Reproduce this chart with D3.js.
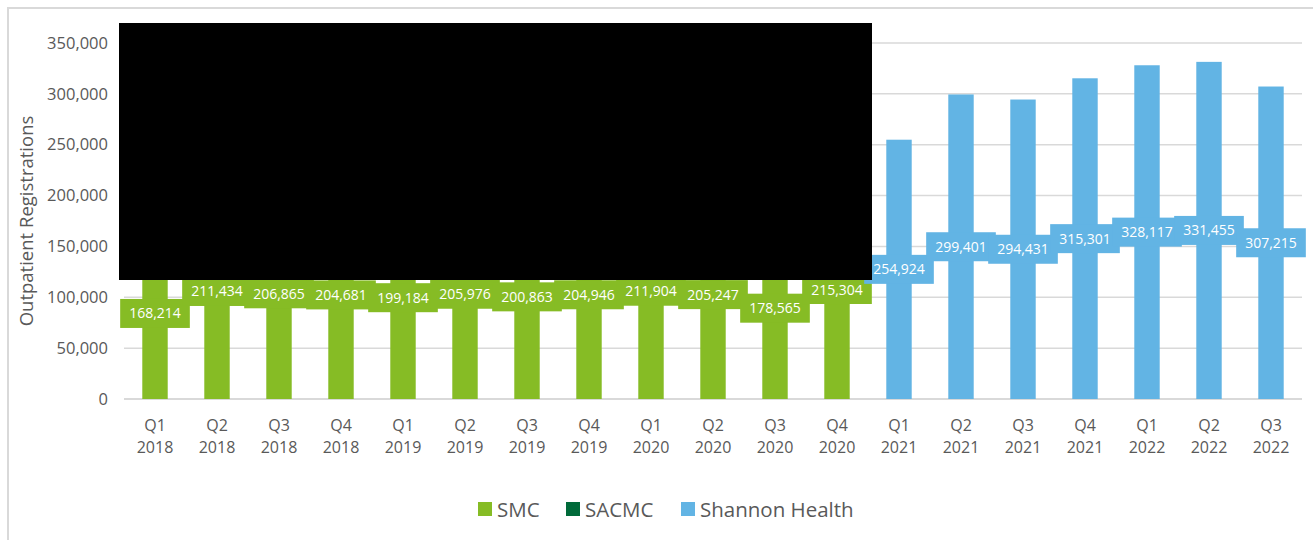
<!DOCTYPE html>
<html>
<head>
<meta charset="utf-8">
<script src="https://cdn.jsdelivr.net/npm/d3@7"></script>
<style>
  body { margin: 0; background: #fff; }
  svg { display: block; font-family: "Open Sans", "Noto Sans", sans-serif; }
</style>
</head>
<body>
<svg id="chart" width="1313" height="540"></svg>
<script>
// quarters and years along the x axis
const quarters = ["Q1","Q2","Q3","Q4","Q1","Q2","Q3","Q4","Q1","Q2","Q3","Q4","Q1","Q2","Q3","Q4","Q1","Q2","Q3"];
const years = ["2018","2018","2018","2018","2019","2019","2019","2019","2020","2020","2020","2020","2021","2021","2021","2021","2022","2022","2022"];

// series values (null = no bar)
const smc = [168214, 211434, 206865, 204681, 199184, 205976, 200863, 204946, 211904, 205247, 178565, 215304,
             null, null, null, null, null, null, null];
const sacmc = [null, null, null, null, null, null, null, null, null, null, null, null,
               null, null, null, null, null, null, null];
const shannon = [null, null, null, null, null, null, null, null, null, null, null, null,
                 254924, 299401, 294431, 315301, 328117, 331455, 307215];

const seriesNames = ["SMC", "SACMC", "Shannon Health"];
const seriesColors = ["#86bc25", "#006a3a", "#62b4e4"];
const yTicks = [0, 50000, 100000, 150000, 200000, 250000, 300000, 350000];

const svg = d3.select("#chart");
const fmt = d3.format(",");

// outer chart border
svg.append("rect")
  .attr("x", 8).attr("y", 8)
  .attr("width", 1320).attr("height", 560)
  .attr("fill", "#fff")
  .attr("stroke", "#d9d9d9")
  .attr("stroke-width", 2);

const cats = quarters.map((q, i) => i);

const x = d3.scaleBand()
  .domain(cats)
  .range([124, 1302])
  .paddingInner(0.59)
  .paddingOuter(0.295);

const y = d3.scaleLinear()
  .domain([0, 350000])
  .range([399, 43]);

// gridlines
svg.append("g")
  .selectAll("line")
  .data(yTicks)
  .enter().append("line")
  .attr("x1", 124).attr("x2", 1302)
  .attr("y1", d => y(d)).attr("y2", d => y(d))
  .attr("stroke", "#d9d9d9")
  .attr("stroke-width", d => d === 0 ? 2 : 1.5);

// y axis labels
const yAxis = svg.append("g")
  .attr("transform", "translate(108,0)")
  .call(d3.axisLeft(y).tickValues(yTicks).tickFormat(fmt).tickSize(0).tickPadding(0));
yAxis.select(".domain").remove();
yAxis.selectAll("text")
  .attr("fill", "#595959")
  .style("font-size", "16.5px")
  .style("font-family", "\"Open Sans\", sans-serif");

// y axis title
svg.append("text")
  .attr("transform", "translate(33,221) rotate(-90)")
  .attr("text-anchor", "middle")
  .attr("fill", "#595959")
  .style("font-size", "18.5px")
  .text("Outpatient Registrations");

// x axis labels (two lines)
const xl = svg.append("g").selectAll("text")
  .data(cats)
  .enter().append("text")
  .attr("text-anchor", "middle")
  .attr("fill", "#595959")
  .style("font-size", "16px");
xl.append("tspan").attr("x", d => x(d) + x.bandwidth() / 2).attr("y", 431).text(d => quarters[d]);
xl.append("tspan").attr("x", d => x(d) + x.bandwidth() / 2).attr("y", 453).text(d => years[d]);

// bars
const allSeries = [smc, sacmc, shannon];
const barG = svg.append("g");
allSeries.forEach((vals, si) => {
  barG.selectAll(null)
    .data(cats.filter(i => vals[i] != null))
    .enter().append("rect")
    .attr("x", i => x(i))
    .attr("width", x.bandwidth())
    .attr("y", i => y(vals[i]))
    .attr("height", i => y(0) - y(vals[i]))
    .attr("fill", seriesColors[si]);
});

// data labels: boxes centred on each bar
const labG = svg.append("g");
cats.forEach(i => {
  allSeries.forEach((vals, si) => {
    if (vals[i] == null) return;
    const cx = x(i) + x.bandwidth() / 2;
    const cy = y(vals[i] / 2);
    const g = labG.append("g");
    const rect = g.append("rect").attr("fill", seriesColors[si]);
    const t = g.append("text")
      .attr("x", cx).attr("y", cy + 5)
      .attr("text-anchor", "middle")
      .attr("fill", "#fff")
      .style("font-size", "14px")
      .text(fmt(vals[i]));
    const w = t.node().getComputedTextLength() + 18;
    rect.attr("x", cx - w / 2).attr("y", cy - 14.5)
      .attr("width", w).attr("height", 29);
  });
});

// redaction block from the reference picture
svg.append("rect")
  .attr("x", 119).attr("y", 23)
  .attr("width", 753).attr("height", 257)
  .attr("fill", "#000");

// legend
const legendX = [478, 566, 681];
const lg = svg.append("g").selectAll("g")
  .data(seriesNames)
  .enter().append("g")
  .attr("transform", (d, i) => `translate(${legendX[i]},502)`);
lg.append("rect")
  .attr("width", 14).attr("height", 14)
  .attr("fill", (d, i) => seriesColors[i]);
lg.append("text")
  .attr("x", 19).attr("y", 14.5)
  .attr("fill", "#595959")
  .style("font-size", "20.5px")
  .text(d => d);
</script>
</body>
</html>
